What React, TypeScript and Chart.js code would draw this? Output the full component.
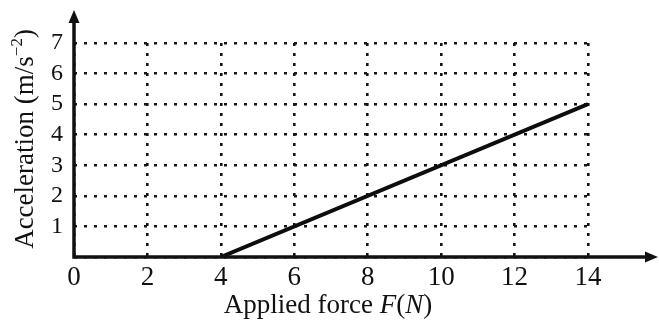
import React, { useEffect, useRef } from "react";
import { Chart, registerables } from "chart.js";

Chart.register(...registerables);

// ---- data ----
const forceTicks = [0, 2, 4, 6, 8, 10, 12, 14];
const accelTicks = [0, 1, 2, 3, 4, 5, 6, 7];
const forceValues = [4, 14];
const accelValues = [0, 5];
const xTitleParts: [string, boolean][] = [
  ["Applied force ", false],
  ["F", true],
  ["(", false],
  ["N", true],
  [")", false],
];
const yTitleMain = "Acceleration (m/s";
const yTitleSup = "\u22122";
const yTitleEnd = ")";

const SERIF = "'Liberation Serif', 'Times New Roman', serif";
const INK = "#111111";

const axesPlugin = {
  id: "axesArrows",
  afterDraw(chart: any) {
    const ctx: CanvasRenderingContext2D = chart.ctx;
    const xs = chart.scales.x;
    const ys = chart.scales.y;
    const ox = xs.getPixelForValue(0);
    const oy = ys.getPixelForValue(0);
    const xEnd = chart.width - 1;
    const yEnd = 10;
    ctx.save();
    ctx.strokeStyle = INK;
    ctx.fillStyle = INK;
    ctx.lineWidth = 3.5;
    ctx.lineCap = "butt";
    ctx.beginPath();
    ctx.moveTo(ox - 1.75, oy);
    ctx.lineTo(xEnd - 8, oy);
    ctx.moveTo(ox, oy + 1.75);
    ctx.lineTo(ox, yEnd + 8);
    ctx.stroke();
    // x arrow
    ctx.beginPath();
    ctx.moveTo(xEnd, oy);
    ctx.lineTo(xEnd - 13, oy - 5.5);
    ctx.lineTo(xEnd - 13, oy + 5.5);
    ctx.closePath();
    ctx.fill();
    // y arrow
    ctx.beginPath();
    ctx.moveTo(ox, yEnd);
    ctx.lineTo(ox - 5.5, yEnd + 13);
    ctx.lineTo(ox + 5.5, yEnd + 13);
    ctx.closePath();
    ctx.fill();

    // x title (mixed italic)
    const xSize = 27;
    const fontFor = (it: boolean, size: number) =>
      `${it ? "italic " : ""}${size}px ${SERIF}`;
    let total = 0;
    const widths = xTitleParts.map(([t, it]) => {
      ctx.font = fontFor(it, xSize);
      const w = ctx.measureText(t).width;
      total += w;
      return w;
    });
    let cx = 328 - total / 2;
    ctx.textBaseline = "alphabetic";
    ctx.textAlign = "left";
    xTitleParts.forEach(([t, it], i) => {
      ctx.font = fontFor(it, xSize);
      ctx.fillText(t, cx, 313);
      cx += widths[i];
    });

    // y title rotated, with superscript
    const ySize = 27;
    const supSize = 17;
    ctx.font = fontFor(false, ySize);
    const wMain = ctx.measureText(yTitleMain).width;
    const wEnd = ctx.measureText(yTitleEnd).width;
    ctx.font = fontFor(false, supSize);
    const wSup = ctx.measureText(yTitleSup).width;
    const yTotal = wMain + wSup + wEnd;
    ctx.translate(33, 139);
    ctx.rotate(-Math.PI / 2);
    let tx = -yTotal / 2;
    ctx.font = fontFor(false, ySize);
    ctx.fillText(yTitleMain, tx, 0);
    tx += wMain;
    ctx.font = fontFor(false, supSize);
    ctx.fillText(yTitleSup, tx, -11);
    tx += wSup;
    ctx.font = fontFor(false, ySize);
    ctx.fillText(yTitleEnd, tx, 0);
    ctx.restore();
  },
};

export default function App() {
  const ref = useRef<HTMLCanvasElement | null>(null);
  useEffect(() => {
    if (!ref.current) return;
    const chart = new Chart(ref.current, {
      type: "line",
      data: {
        datasets: [
          {
            data: forceValues.map((f, i) => ({ x: f, y: accelValues[i] })),
            borderColor: "#0d0d0d",
            borderWidth: 4,
            pointRadius: 0,
            fill: false,
            tension: 0,
          },
        ],
      },
      options: {
        responsive: false,
        animation: false,
        layout: { padding: { left: 0, top: 43, right: 71, bottom: 0 } },
        plugins: { legend: { display: false }, tooltip: { enabled: false } },
        scales: {
          x: {
            type: "linear",
            min: forceTicks[0],
            max: forceTicks[forceTicks.length - 1],
            afterBuildTicks: (s: any) => {
              s.ticks = forceTicks.map((v) => ({ value: v }));
            },
            afterFit: (s: any) => {
              s.height = 64;
            },
            ticks: { font: { family: SERIF, size: 27 }, color: INK, padding: 5, maxRotation: 0, autoSkip: false },
            grid: { color: "#151515", lineWidth: 2.6, drawTicks: false },
            border: { display: false, dash: [3, 7] },
          },
          y: {
            type: "linear",
            min: accelTicks[0],
            max: accelTicks[accelTicks.length - 1],
            afterBuildTicks: (s: any) => {
              s.ticks = accelTicks.map((v) => ({ value: v }));
            },
            afterFit: (s: any) => {
              s.width = 74;
            },
            ticks: {
              font: { family: SERIF, size: 24 },
              color: INK,
              padding: 11,
              autoSkip: false,
              callback: (v: any) => (v === 0 ? "" : String(v)),
            },
            grid: { color: "#151515", lineWidth: 2.6, drawTicks: false },
            border: { display: false, dash: [3, 7] },
          },
        },
      },
      plugins: [axesPlugin],
    } as any);
    return () => chart.destroy();
  }, []);
  return (
    <div style={{ position: "fixed", left: 0, top: 0, width: 659, height: 321, background: "#fff" }}>
      <canvas ref={ref} width={659} height={321} style={{ display: "block" }} />
    </div>
  );
}
